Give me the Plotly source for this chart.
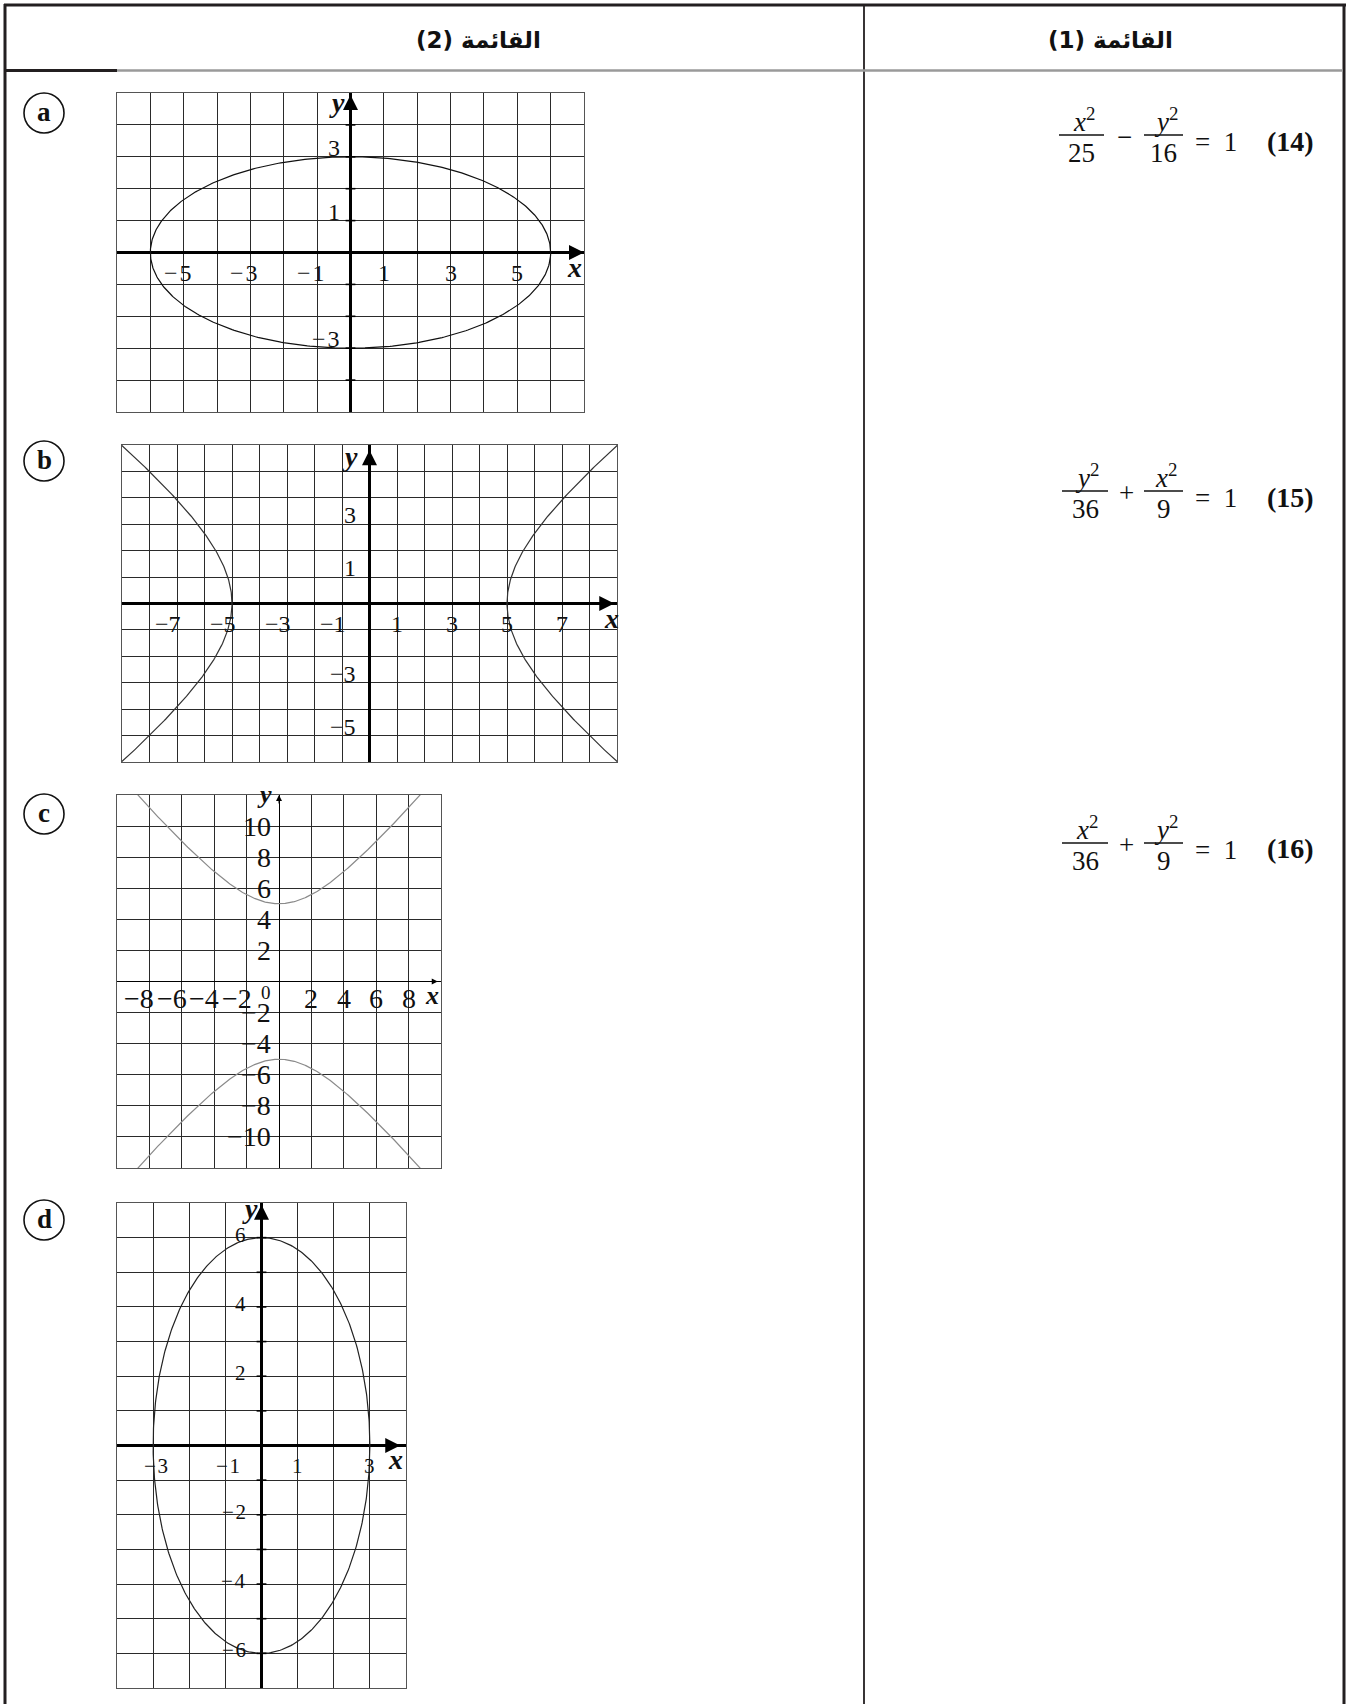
import numpy as np
import plotly.graph_objects as go

W, H = 1348, 1704

# ---------------- data ----------------
panel_letters = ["a", "b", "c", "d"]
x_ranges = [(-7, 7), (-9, 9), (-10, 10), (-4, 4)]
y_ranges = [(-5, 5), (-6, 6), (-12, 12), (-7, 7)]
grid_steps = [1, 1, 2, 1]
conic_kinds = ["ellipse", "hyperbola_x", "hyperbola_y", "ellipse"]
semi_axis_x = [6, 5, 4, 3]   # x semi-axis (ellipse / hyperbola)
semi_axis_y = [3, 4, 5, 6]   # y semi-axis

x_tick_labels = [
    [-5, -3, -1, 1, 3, 5],
    [-7, -5, -3, -1, 1, 3, 5, 7],
    [-8, -6, -4, -2, 2, 4, 6, 8],
    [-3, -1, 1, 3],
]
y_tick_labels = [
    [3, 1, -3],
    [3, 1, -3, -5],
    [10, 8, 6, 4, 2, -2, -4, -6, -8, -10],
    [6, 4, 2, -2, -4, -6],
]
# small tick marks drawn on the y axis (panels a and d)
y_axis_ticks = [
    [-4, -3, -2, -1, 1, 2, 3, 4],
    [],
    [],
    [-6, -5, -4, -3, -2, -1, 1, 2, 3, 4, 5, 6],
]

header_texts = ["(2) القائمة", "(1) القائمة"]

eq_numbers = ["(14)", "(15)", "(16)"]
eq_num1 = ["x", "y", "x"]
eq_den1 = ["25", "36", "36"]
eq_ops = ["−", "+", "+"]
eq_num2 = ["y", "x", "y"]
eq_den2 = ["16", "9", "9"]

# ---------------- layout helpers ----------------
def fx(p):
    return p / W


def fy(p):
    return 1 - p / H


SERIF = "Liberation Serif, Times New Roman, serif"
annotations = []
shapes = []


def paper_text(xp, yp, text, size, family=SERIF, xanchor="center", yanchor="middle", color="#111"):
    annotations.append(dict(x=fx(xp), y=fy(yp), xref="paper", yref="paper", text=text,
                            showarrow=False, xanchor=xanchor, yanchor=yanchor,
                            font=dict(family=family, size=size, color=color)))


def paper_line(x0, y0, x1, y1, color, width):
    shapes.append(dict(type="line", xref="paper", yref="paper", x0=fx(x0), x1=fx(x1),
                       y0=fy(y0), y1=fy(y1), line=dict(color=color, width=width)))


boxes = [(117, 93, 584, 412), (122, 445, 617, 762), (117, 795, 441, 1168), (117, 1203, 406, 1688)]
label_font = [24, 24, 28, 21]
minus_gap = ["\u200a", "", "", "\u200a"]
neg_xshift = [10, 6, 7, 17]
x_lab_yshift = [-20, -20, -17, -20]
y_lab_xshift = [-9, -12, -6, -14]
y_lab_yshift = [9, 9, 0, 3]
curve_colors = ["#111", "#333", "#8a8a8a", "#222"]
zero_w = [2.5, 2.5, 1.3, 2.5]
axis_title_pos = [  # (y-label px, x-label px)
    ((337, 102), (574, 268)),
    ((350, 457), (611, 618)),
    ((264, 794), (432, 995)),
    ((250, 1208), (395, 1459)),
]
arrow_tips = [  # (x tip data, y tip data)
    (7.0, 4.94),
    (8.9, 5.8),
    (9.8, 12.0),
    (3.84, 6.95),
]
arrow_w = [2, 2, 1, 2]
arrow_len = [26, 26, 10, 26]
circle_centers = [(44, 113), (44, 461), (44, 814), (44, 1220)]

fig = go.Figure()

for i, letter in enumerate(panel_letters):
    xa = "x" if i == 0 else f"x{i+1}"
    ya = "y" if i == 0 else f"y{i+1}"
    xkey = "xaxis" if i == 0 else f"xaxis{i+1}"
    ykey = "yaxis" if i == 0 else f"yaxis{i+1}"
    l, t, r, b = boxes[i]
    common = dict(
        showgrid=True, gridcolor="#2a2a2a", gridwidth=1.1, tick0=0, dtick=grid_steps[i],
        zeroline=True, zerolinecolor="#000", zerolinewidth=zero_w[i],
        showticklabels=False, ticks="", showline=True, mirror=True,
        linecolor="#555", linewidth=1, fixedrange=True,
    )
    fig.layout[xkey] = dict(domain=[fx(l), fx(r)], range=list(x_ranges[i]), anchor=ya, **common)
    fig.layout[ykey] = dict(domain=[fy(b), fy(t)], range=list(y_ranges[i]), anchor=xa, **common)

    A, B = semi_axis_x[i], semi_axis_y[i]
    kind = conic_kinds[i]
    if kind == "ellipse":
        tt = np.linspace(0, 2 * np.pi, 500)
        branches = [(A * np.cos(tt), B * np.sin(tt))]
    elif kind == "hyperbola_x":
        tt = np.linspace(-1.6, 1.6, 300)
        branches = [(A * np.cosh(tt), B * np.sinh(tt)), (-A * np.cosh(tt), B * np.sinh(tt))]
    else:
        tt = np.linspace(-1.7, 1.7, 300)
        branches = [(A * np.sinh(tt), B * np.cosh(tt)), (A * np.sinh(tt), -B * np.cosh(tt))]
    for bx, by in branches:
        fig.add_trace(go.Scatter(x=bx, y=by, mode="lines", xaxis=xa, yaxis=ya,
                                 line=dict(color=curve_colors[i], width=1.2),
                                 hoverinfo="skip", showlegend=False))
    if y_axis_ticks[i]:
        fig.add_trace(go.Scatter(x=[0] * len(y_axis_ticks[i]), y=y_axis_ticks[i], mode="markers",
                                 xaxis=xa, yaxis=ya, hoverinfo="skip", showlegend=False,
                                 marker=dict(symbol="line-ew", size=7, line=dict(color="#000", width=1.6))))

    # tick labels along the axes
    lf = dict(family=SERIF, size=label_font[i], color="#111")
    for v in x_tick_labels[i]:
        if v < 0:
            annotations.append(dict(x=v, y=0, xref=xa, yref=ya, text="−" + minus_gap[i] + str(-v),
                                    showarrow=False, xanchor="right", yanchor="middle", xshift=neg_xshift[i],
                                    yshift=x_lab_yshift[i], font=lf))
        else:
            annotations.append(dict(x=v, y=0, xref=xa, yref=ya, text=str(v), showarrow=False,
                                    xanchor="center", yanchor="middle", yshift=x_lab_yshift[i], font=lf))
    for v in y_tick_labels[i]:
        txt = str(v) if v > 0 else "−" + minus_gap[i] + str(-v)
        annotations.append(dict(x=0, y=v, xref=xa, yref=ya, text=txt, showarrow=False,
                                xanchor="right", yanchor="middle", xshift=y_lab_xshift[i],
                                yshift=y_lab_yshift[i], font=lf))
    if kind == "hyperbola_y":
        annotations.append(dict(x=0, y=0, xref=xa, yref=ya, text="0", showarrow=False,
                                xanchor="right", yanchor="middle", xshift=-6, yshift=-11,
                                font=dict(family=SERIF, size=19, color="#111")))

    # axis arrows
    xt, yt = arrow_tips[i]
    asz = 1.5 if arrow_w[i] > 1 else 1.2
    annotations.append(dict(x=xt, y=0, xref=xa, yref=ya, ax=-arrow_len[i], ay=0, text="",
                            showarrow=True, arrowhead=2, arrowsize=asz,
                            arrowwidth=arrow_w[i], arrowcolor="#000", standoff=0))
    annotations.append(dict(x=0, y=yt, xref=xa, yref=ya, ax=0, ay=arrow_len[i], text="",
                            showarrow=True, arrowhead=2, arrowsize=asz,
                            arrowwidth=arrow_w[i], arrowcolor="#000", standoff=0))
    (ylx, yly), (xlx, xly) = axis_title_pos[i]
    tsize = 28 if i != 2 else 26
    paper_text(ylx, yly, "<b><i>y</i></b>", tsize)
    paper_text(xlx, xly, "<b><i>x</i></b>", tsize)

    # circled letter
    cx, cy = circle_centers[i]
    rr = 20
    shapes.append(dict(type="circle", xref="paper", yref="paper", x0=fx(cx - rr), x1=fx(cx + rr),
                       y0=fy(cy + rr), y1=fy(cy - rr), line=dict(color="#111", width=1.6)))
    paper_text(cx, cy - 1, "<b>" + letter + "</b>", 27)

# ---------------- table frame ----------------
line_col = "#231f20"
paper_line(4, 5, 1346, 5, line_col, 3)
paper_line(5, 4, 5, 1704, line_col, 3)
paper_line(1344, 4, 1344, 1704, line_col, 3)
paper_line(864, 5, 864, 1704, line_col, 1.8)
paper_line(117, 70.5, 1343, 70.5, "#9a9a9a", 2.5)
paper_line(5, 70.5, 117, 70.5, line_col, 3)

# headers
header_centers = [(479, 40), (1110, 40)]
for txt, (hx, hy) in zip(header_texts, header_centers):
    paper_text(hx, hy, "<b>" + txt + "</b>", 23, family="DejaVu Sans, sans-serif")

# ---------------- equations ----------------
bar_y = [135, 491, 843]
frac1_x = [(1059, 1104), (1062, 1108), (1062, 1108)]
frac2_x = [(1144, 1183), (1144, 1183), (1144, 1183)]
EQF = 27
for k in range(3):
    by = bar_y[k]
    for (x0, x1), num, den in ((frac1_x[k], eq_num1[k], eq_den1[k]), (frac2_x[k], eq_num2[k], eq_den2[k])):
        paper_line(x0, by, x1, by, "#111", 1.3)
        cxm = (x0 + x1) / 2
        paper_text(cxm + 2, by + 4, "<i>" + num + "</i><sup>2</sup>", EQF, yanchor="bottom")
        paper_text(cxm, by + 1, den, EQF, yanchor="top")
    op_x = (frac1_x[k][1] + frac2_x[k][0]) / 2
    paper_text(op_x, by + 2, eq_ops[k], EQF)
    paper_text(1216, by + 7, "=  1", EQF)
    paper_text(1290, by + 6, "<b>" + eq_numbers[k] + "</b>", 28)

fig.update_layout(
    width=W, height=H, margin=dict(l=0, r=0, t=0, b=0),
    paper_bgcolor="white", plot_bgcolor="white", showlegend=False,
    annotations=annotations, shapes=shapes,
)

fig.write_html("out.html", config={"displayModeBar": False},
               post_script="document.body.style.margin='0';document.body.style.overflow='hidden';")
